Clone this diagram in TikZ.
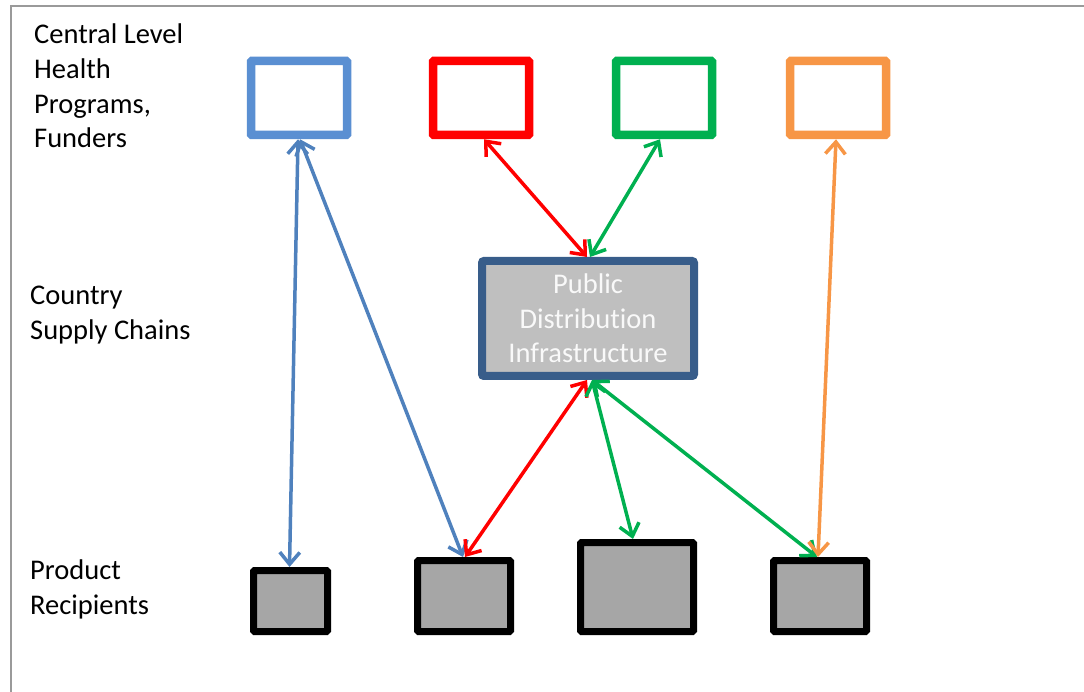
\documentclass[tikz,border=0pt]{standalone}
\usepackage{fontspec}
\setmainfont{Carlito}[Ligatures=NoCommon]
\usetikzlibrary{arrows.meta,calc}
\definecolor{cblue}{HTML}{5A8FD2}
\definecolor{cablue}{HTML}{4F81BD}
\definecolor{cred}{HTML}{FF0000}
\definecolor{cgreen}{HTML}{00B050}
\definecolor{corange}{HTML}{F79646}
\definecolor{pdborder}{HTML}{385D8A}
\definecolor{pdfill}{HTML}{BFBFBF}
\definecolor{recfill}{HTML}{A6A6A6}
\definecolor{framegray}{HTML}{9A9A9A}
\tikzset{
  x=1pt, y=-1pt,
  lbl/.style={anchor=north west, align=left, inner sep=0pt, font=\fontsize{28.5}{34.6}\selectfont},
  topbox/.style={draw=#1, line width=8.5pt, fill=white, minimum width=96pt, minimum height=74pt, inner sep=0pt, rounded corners=1pt},
  recbox/.style={draw=black, line width=7pt, fill=recfill, inner sep=0pt, rounded corners=1pt},
  conn/.style={draw=#1, line width=3.5pt, {Straight Barb[length=12pt,width=20pt,line width=3.5pt]}-{Straight Barb[length=12pt,width=20pt,line width=3.5pt]}},
}
\begin{document}
\begin{tikzpicture}
\useasboundingbox (0,0) rectangle (1084,692);
\draw[framegray, line width=2pt] (11,692) -- (11,6) -- (1084,6);

\node[lbl] (l1) at (34,24) {Central Level\\Health\\Programs,\\Funders};
\node[lbl] (l2) at (30,286) {Country\\Supply Chains};
\node[lbl] (l3) at (30,560) {Product\\Recipients};

\node[topbox=cblue] (tb) at (299,98) {};
\node[topbox=cred] (tr) at (481,98) {};
\node[topbox=cgreen] (tg) at (664,98) {};
\node[topbox=corange] (to) at (838,98) {};

\node[draw=pdborder, fill=pdfill, line width=8pt, minimum width=212pt, minimum height=115pt, inner sep=0pt, rounded corners=2pt,
  align=center, text=white!95!gray, font=\fontsize{28.5}{34.6}\selectfont] (pd) at (588,318.5) {Public\\Distribution\\Infrastructure};

\node[recbox, minimum width=74pt, minimum height=61pt] (r1) at (290.5,601) {};
\node[recbox, minimum width=93pt, minimum height=71pt] (r2) at (464,596) {};
\node[recbox, minimum width=113pt, minimum height=89pt] (r3) at (637,587) {};
\node[recbox, minimum width=93pt, minimum height=71pt] (r4) at (820,596) {};

\draw[conn=cablue] ($(tb.south)+(-1,0)$) -- ($(r1.north)+(-1,0)$);
\draw[conn=cablue] ($(tb.south)+(1,0)$) -- ($(r2.north)+(-1,0)$);
\draw[conn=cred] ($(tr.south)+(3,0)$) -- ($(pd.north)+(-1,0)$);
\draw[conn=cgreen] ($(tg.south)+(-4,0)$) -- ($(pd.north)+(2,0)$);
\draw[conn=cred] ($(pd.south)+(-1,0)$) -- ($(r2.north)+(1,0)$);
\draw[conn=cgreen] ($(pd.south)+(4,0)$) -- ($(r3.north)+(-4,0)$);
\draw[conn=cgreen] ($(pd.south)+(4,0)$) -- ($(r4.north)+(-3,0)$);
\draw[conn=corange] ($(to.south)+(-2,0)$) -- ($(r4.north)+(-2,0)$);
\end{tikzpicture}
\end{document}
